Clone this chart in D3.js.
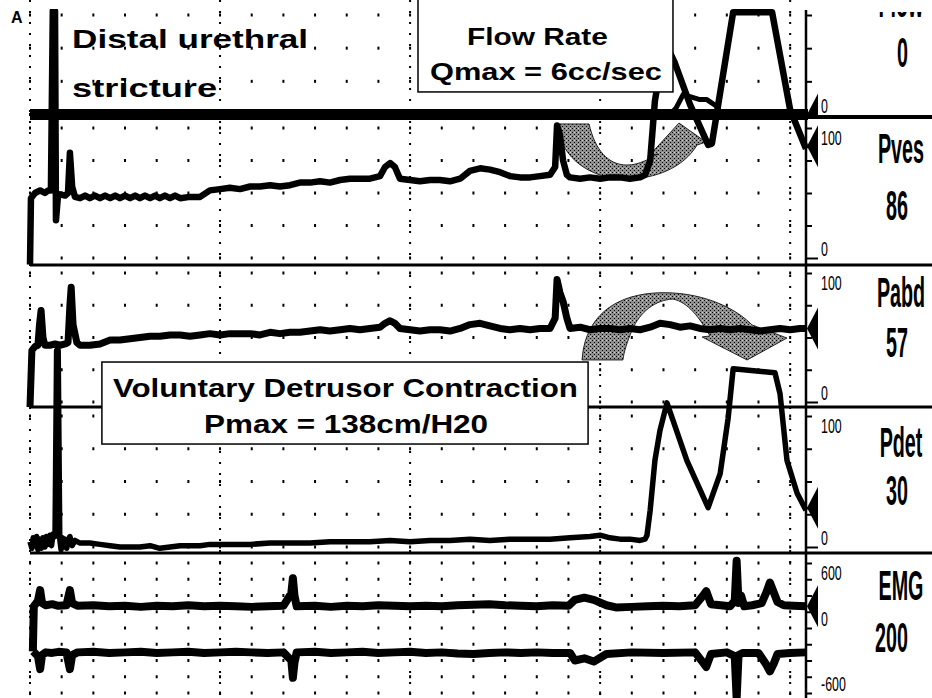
<!DOCTYPE html>
<html>
<head>
<meta charset="utf-8">
<script src="https://cdn.jsdelivr.net/npm/d3@7"></script>
<style>
body { margin: 0; background: #fff; }
svg { display: block; }
</style>
</head>
<body>
<script>
// Values: [time in s, value]
var flow_data = [[0,0],[202.1,0],[204.0,2],[206.2,6],[208.4,5.4],[211.5,4.5],[213.7,4.5],[216.9,2.4],[217.9,0.5],[219.0,0],[245,0]];
var pves_data = [[0,-5],[0.3,46],[1.6,50],[3.2,52],[4.7,50],[5.7,52],[6.6,52],[7.2,190],[7.9,190],[8.2,29],[8.8,47],[9.5,49],[11.1,48],[12.0,50],[12.6,81],[13.3,55],[14.2,47],
    [15.8,46],[17.4,48],[18.9,46],[20.5,48],[22.1,46],[23.7,48],[25.3,46],[26.9,48],[28.4,46],[30.0,48],[31.6,46],[33.2,48],[34.7,46],[36.3,48],[37.9,46],[39.5,48],[41.0,46],[42.6,48],[44.2,46],[45.8,48],[47.4,46],[50.5,47],[53.7,47],
    [56.8,52],[60.0,53],[63.1,54],[66.3,53],[69.5,55],[72.6,55],[75.8,56],[78.9,55],[82.1,56],[85.2,58],[88.4,58],[91.6,59],[94.7,58],[97.9,60],[101.0,61],[104.2,61],[107.3,61],[110.5,63],[112.1,70],[113.7,73],[115.2,70],[116.8,61],
    [120.0,60],[123.1,59],[126.3,60],[129.4,60],[132.6,59],[135.8,61],[138.9,67],[142.1,69],[145.2,68],[148.4,66],[151.5,63],[154.7,62],[157.9,62],[161.0,63],[164.2,64],[165.8,70],[166.4,102],[167.3,95],[168.3,75],[169.5,64],[170.5,62],
    [173.7,61],[176.8,62],[180.0,61],[183.1,62],[186.3,62],[189.4,61],[192.6,62],[194.2,64],[195.8,75],[197.3,121],[200.5,166],[203.6,150],[208.4,118],[214.1,87],[215.3,88],[222.0,189],[234.3,189],[240.0,114],[245.0,84]];
var pabd_data = [[0,-4],[0.6,40],[1.6,43],[2.5,44],[3.0,60],[3.5,71],[4.1,50],[4.7,44],[6.3,44],[7.9,45],[9.5,44],[11.1,45],[12.0,46],[12.6,75],[13.0,89],[13.6,60],[14.8,46],[15.8,44],[18.9,44],[22.1,45],[25.3,48],[28.4,48],[31.6,49],
    [34.7,50],[37.9,51],[41.0,51],[44.2,52],[47.4,52],[50.5,51],[53.7,52],[56.8,53],[60.0,52],[63.1,53],[66.3,53],[69.5,53],[72.6,52],[75.8,54],[78.9,53],[82.1,54],[85.2,54],[88.4,55],[91.6,56],[94.7,55],[97.9,56],[101.0,57],
    [104.2,56],[107.3,57],[110.5,58],[112.1,61],[113.7,63],[115.2,61],[116.8,57],[120.0,56],[123.1,55],[126.3,56],[129.4,56],[132.6,55],[135.8,57],[138.9,60],[142.1,61],[145.2,59],[148.4,57],[151.5,56],[154.7,57],[157.9,56],
    [161.0,57],[164.2,57],[165.8,65],[166.4,95],[167.3,85],[168.3,78],[169.5,65],[170.5,57],[173.7,58],[176.8,56],[180.0,57],[183.1,57],[186.3,56],[189.4,57],[192.6,56],[195.8,58],[198.9,61],[202.1,60],[205.2,58],[208.4,59],
    [211.5,57],[214.7,56],[217.9,57],[221.0,56],[224.2,57],[227.3,56],[230.5,55],[233.6,56],[236.8,57],[240.0,56],[243.1,57],[245.0,57]];
var pdet_data = [[0,4],[0.6,-1],[1.0,7],[1.6,1],[2.1,8],[2.5,-2],[3.2,6],[3.6,-1],[4.1,7],[4.7,0],[5.2,8],[5.7,2],[6.3,9],[6.8,1],[7.3,10],[7.9,8],[8.4,150],[8.9,150],[9.4,6],[9.8,-2],[10.2,7],[10.7,0],[11.1,6],[11.6,-1],
    [12.0,5],[12.6,8],[13.3,1],[14.2,5],[15.8,3],[18.9,3],[22.1,2],[25.3,1],
    [28.4,0],[31.6,0],[34.7,0],[37.9,1],[41.0,-1],[44.2,0],[47.4,1],[50.5,1],[53.7,1],[56.8,2],[63.1,2],[69.5,2],[75.8,3],[82.1,3],[88.4,3],[94.7,4],[101.0,4],[107.3,4],[113.7,5],[120.0,4],[126.3,5],[132.6,5],[138.9,6],
    [145.2,5],[151.5,6],[157.9,6],[164.2,6],[170.5,7],[176.8,8],[180.0,9],[183.1,7],[186.3,6],[189.4,6],[192.6,5],[194.2,6],[194.8,9],[195.8,28],[197.3,66],[198.9,89],[201.1,110],[207.4,66],[214.1,30],[217.9,56],[220.4,98],
    [222.0,136],[235.2,133],[236.8,117],[239.0,66],[242.2,41],[245.0,28]];
var emg_upper = [[0.9,-215],[1.2,200],[2.5,250],[3.2,350],[3.8,230],[5.0,210],[7.0,220],[9.0,205],[11.5,210],[12.6,350],[13.3,230],[15,205],[20,210],[25,200],[30,205],[35,195],[40,205],[45,200],[50,210],[55,200],[60,205],
    [65,200],[70,195],[75,200],[80,205],[82.5,320],[83.0,460],[83.5,300],[84.2,200],[90,205],[95,195],[100,205],[105,200],[110,210],[115,205],[120,200],[125,205],[130,200],[135,210],[140,215],[145,220],[150,210],[155,205],
    [160,200],[165,210],[170,205],[172,260],[175,280],[178,260],[182,210],[185,190],[190,195],[195,200],[200,205],[205,200],[210,210],[212.5,300],[213.5,340],[215,220],[218,210],[221,200],[222.5,250],[223.1,620],[223.7,230],
    [224.5,300],[225.5,200],[228,210],[231,230],[232.5,330],[233.6,420],[234.8,330],[236,240],[238,210],[241,205],[245,200]];
var emg_lower = [[1.0,-215],[2.5,-260],[3.2,-380],[3.8,-250],[5,-225],[7,-230],[9,-220],[11.5,-225],[12.6,-380],[13.3,-250],[15,-225],[20,-220],[25,-230],[30,-225],[35,-220],[40,-230],[45,-225],[50,-220],[55,-230],[60,-225],
    [65,-220],[70,-225],[75,-230],[80,-225],[82.5,-300],[83.0,-460],[83.5,-320],[84.2,-225],[90,-220],[95,-230],[100,-225],[105,-220],[110,-230],[115,-225],[120,-220],[125,-230],[130,-225],[135,-235],[140,-240],[145,-230],
    [150,-225],[155,-230],[160,-225],[165,-230],[170.5,-230],[172,-300],[175,-280],[178,-310],[182,-240],[190,-225],[200,-230],[210,-225],[212.5,-320],[213.5,-360],[215,-240],[220,-225],[222.5,-260],[223.1,-650],
    [223.7,-250],[225,-230],[230,-230],[232.5,-340],[233.6,-400],[234.8,-330],[236,-240],[240,-230],[245,-225]];

var channel_names = ["Flow", "Pves", "Pabd", "Pdet", "EMG"];
var current_values = [0, 86, 57, 30, 200];
var flow_ticks = [0, 10, 20, 30];
var pres_ticks = [0, 25, 50, 75, 100];
var emg_ticks = [-600, -450, -300, -150, 0, 150, 300, 450, 600];
var flow_tick_labels = [0];
var pres_tick_labels = [100, 0];
var emg_tick_labels = [600, 0, -600];

/* **
** Layout
** */
var W = 932, H = 698, axisX = 806;
var x = d3.scaleLinear().domain([0, 245]).range([30, axisX]);
var yFlow = d3.scaleLinear().domain([0, 30]).range([114.5, 15]);
var yPves = d3.scaleLinear().domain([0, 100]).range([258, 128]);
var yPabd = d3.scaleLinear().domain([0, 100]).range([402, 273]);
var yPdet = d3.scaleLinear().domain([0, 100]).range([547, 416]);
var yEmg = d3.scaleLinear().domain([-600, 600]).range([693, 563]);

var panels = [
    {scale: yFlow, ticks: flow_ticks, labels: flow_tick_labels, top: -20, bottom: 116, nameY: 17, valY: 67},
    {scale: yPves, ticks: pres_ticks, labels: pres_tick_labels, top: 117, bottom: 265, nameY: 163, valY: 220},
    {scale: yPabd, ticks: pres_ticks, labels: pres_tick_labels, top: 265, bottom: 407, nameY: 307, valY: 357},
    {scale: yPdet, ticks: pres_ticks, labels: pres_tick_labels, top: 407, bottom: 553, nameY: 457, valY: 505},
    {scale: yEmg, ticks: emg_ticks, labels: emg_tick_labels, top: 553, bottom: 700, nameY: 600, valY: 652}
];

var svg = d3.select("body").append("svg")
        .attr("width", W)
        .attr("height", H)
        .style("font-family", "'Liberation Sans', Arial, sans-serif");
svg.append("rect").attr("width", W).attr("height", H).attr("fill", "#fff");

var defs = svg.append("defs");
defs.append("clipPath").attr("id", "plotclip")
    .append("rect").attr("x", 0).attr("y", 9).attr("width", axisX + 2).attr("height", H);
defs.append("clipPath").attr("id", "nameclip")
    .append("rect").attr("x", axisX).attr("y", 12).attr("width", W).attr("height", H);
panels.forEach(function(p, i) {
    defs.append("clipPath").attr("id", "mclip" + i)
        .append("rect").attr("x", axisX).attr("y", p.top).attr("width", 30).attr("height", p.bottom - p.top);
});
var pat = defs.append("pattern").attr("id", "stipple")
        .attr("patternUnits", "userSpaceOnUse").attr("width", 4).attr("height", 4);
pat.append("rect").attr("width", 4).attr("height", 4).attr("fill", "#8e8e8e");
pat.append("rect").attr("width", 1).attr("height", 1).attr("fill", "#000");
pat.append("rect").attr("x", 2).attr("y", 2).attr("width", 1).attr("height", 1).attr("fill", "#000");
pat.append("rect").attr("x", 2).attr("y", 0).attr("width", 1).attr("height", 1).attr("fill", "#d0d0d0");

// Grid: dots at each tick row every 10 s, dotted lines every minute
var grid = svg.append("g").attr("class", "grid");
var grid_cols = d3.range(0, 241, 10);
panels.forEach(function(p) {
    grid.append("g").selectAll("rect")
        .data(d3.cross(grid_cols, p.ticks)).enter()
        .append("rect")
            .attr("x", function(d) { return x(d[0]) - 1; })
            .attr("y", function(d) { return p.scale(d[1]) - 1.5; })
            .attr("width", 2).attr("height", 3)
            .attr("fill", "#000");
});
grid.selectAll("line")
    .data(d3.range(0, 241, 60)).enter()
    .append("line")
        .attr("x1", x).attr("x2", x)
        .attr("y1", 0).attr("y2", H)
        .attr("stroke", "#000").attr("stroke-width", 2)
        .attr("stroke-dasharray", "2 9");

// Panel separators
svg.append("g").selectAll("line")
    .data(panels.slice(1)).enter()
    .append("line")
        .attr("x1", 30).attr("x2", W)
        .attr("y1", function(d) { return d.top; }).attr("y2", function(d) { return d.top; })
        .attr("stroke", "#000")
        .attr("stroke-width", function(d, i) { return i === 0 ? 4 : 3; });

// Shaded curved arrows, points in [time, value] of their channel
var arrow_pves = [["M",166.1,103.1],["L",176.5,103.1],["C",178.4,83.1,182.5,71.5,188.5,71.5],["C",192.6,71.5,195.8,76.9,198.3,80],
    ["L",195.1,77.7],["L",204.9,103.8],["L",213.4,89.2],["L",210.6,86.9],["C",206.2,69.2,197.3,60.8,188.2,60.8],["C",177.4,60.8,167.9,75.4,166.1,103.1]];
var arrow_pabd = [["M",174.3,32.6],["C",175.0,59.7,181.5,79.1,194.2,83.7],["C",205.2,87.6,219.4,80.6,228.0,59.7],["L",239.0,49.6],["L",226.4,32.6],
    ["L",212.2,50.4],["L",214.7,51.2],["C",211.5,65.1,207.7,77.5,203.0,79.8],["C",197.3,79.1,192.6,69.8,190.1,55.8],["C",188.5,46.5,187.5,38.8,187.2,32.6]];
function arrowPath(cmds, ys) {
    var p = d3.path();
    cmds.forEach(function(c) {
        if (c[0] === "M") p.moveTo(x(c[1]), ys(c[2]));
        else if (c[0] === "L") p.lineTo(x(c[1]), ys(c[2]));
        else p.bezierCurveTo(x(c[1]), ys(c[2]), x(c[3]), ys(c[4]), x(c[5]), ys(c[6]));
    });
    p.closePath();
    return p.toString();
}
svg.append("g").selectAll("path")
    .data([[arrow_pves, yPves], [arrow_pabd, yPabd]]).enter()
    .append("path")
        .attr("d", function(d) { return arrowPath(d[0], d[1]); })
        .attr("fill", "url(#stipple)")
        .attr("stroke", "#222").attr("stroke-width", 1);

// Traces
var traces = svg.append("g").attr("clip-path", "url(#plotclip)")
        .attr("fill", "none").attr("stroke", "#000")
        .attr("stroke-linejoin", "round");
traces.append("line")
    .attr("x1", x(0)).attr("x2", axisX + 6)
    .attr("y1", yFlow(0)).attr("y2", yFlow(0))
    .attr("stroke-width", 11);
[[flow_data, yFlow, 5], [pves_data, yPves, 6.5], [pabd_data, yPabd, 7], [pdet_data, yPdet, 5.5],
 [emg_upper, yEmg, 8], [emg_lower, yEmg, 8]].forEach(function(s) {
    traces.append("path")
        .datum(s[0])
        .attr("stroke-width", s[2])
        .attr("d", d3.line().x(function(d) { return x(d[0]); }).y(function(d) { return s[1](d[1]); }));
});

// Annotation boxes
var ann = svg.append("g").style("font-weight", "bold");
ann.append("rect")
    .attr("x", x(122.5)).attr("y", yFlow(35.1))
    .attr("width", x(203.0) - x(122.5)).attr("height", yFlow(6.8) - yFlow(35.1))
    .attr("fill", "#fff").attr("stroke", "#000").attr("stroke-width", 1.5);
ann.append("rect")
    .attr("x", x(22.7)).attr("y", yPdet(141.2))
    .attr("width", x(176.2) - x(22.7)).attr("height", yPdet(78.6) - yPdet(141.2))
    .attr("fill", "#fff").attr("stroke", "#000").attr("stroke-width", 1.5);

var notes = [
    {text: "Distal urethral", t: 13.3, y: yFlow(20.0), len: 236, size: 26, anchor: "start"},
    {text: "stricture", t: 13.3, y: yFlow(5.3), len: 145, size: 26, anchor: "start"},
    {text: "Flow Rate", t: 160.2, y: yFlow(21.0), len: 141, size: 24, anchor: "middle"},
    {text: "Qmax = 6cc/sec", t: 162.9, y: yFlow(10.4), len: 232, size: 24, anchor: "middle"},
    {text: "Voluntary Detrusor Contraction", t: 99.6, y: yPdet(114.5), len: 465, size: 25, anchor: "middle"},
    {text: "Pmax = 138cm/H20", t: 99.8, y: yPdet(87), len: 284, size: 25, anchor: "middle"}
];
ann.selectAll("text.note")
    .data(notes).enter()
    .append("text")
        .attr("class", "note")
        .attr("x", function(d) { return x(d.t); })
        .attr("y", function(d) { return d.y; })
        .attr("text-anchor", function(d) { return d.anchor; })
        .attr("textLength", function(d) { return d.len; })
        .attr("lengthAdjust", "spacingAndGlyphs")
        .style("font-size", function(d) { return d.size + "px"; })
        .attr("fill", "#000")
        .text(function(d) { return d.text; });

svg.append("text")
    .attr("x", 11).attr("y", 23)
    .style("font-size", "16px").style("font-weight", "bold")
    .text("A");

// Right-hand scale
svg.append("line")
    .attr("x1", axisX).attr("x2", axisX).attr("y1", 10).attr("y2", H)
    .attr("stroke", "#000").attr("stroke-width", 2.5);

function narrow(g, str, px, py, size, sx, anchor, weight) {
    return g.append("text")
        .attr("transform", "translate(" + px + "," + py + ") scale(" + sx + ",1)")
        .attr("text-anchor", anchor)
        .style("font-size", size + "px")
        .style("font-weight", weight)
        .text(str);
}

panels.forEach(function(p, i) {
    var ax = svg.append("g")
        .attr("transform", "translate(" + axisX + ",0)")
        .call(d3.axisRight(p.scale).tickValues(p.ticks).tickSize(6).tickSizeOuter(0).tickFormat(""));
    ax.select(".domain").remove();
    ax.selectAll(".tick line")
        .attr("stroke-width", 2)
        .attr("x2", function(d) { return d === 0 && i > 0 && i < 4 ? 12 : 6; });

    var lab = svg.append("g");
    p.labels.forEach(function(v, k) {
        var top = k === 0 && p.labels.length > 1;
        narrow(lab, String(v).replace("-", "\u2011"), axisX + 15, p.scale(v) + (top ? 17 : -2), 20, 0.62, "start", "normal");
    });

    // current value marker
    svg.append("path")
        .attr("clip-path", "url(#mclip" + i + ")")
        .attr("d", "M" + (axisX + 1) + "," + p.scale(current_values[i]) +
                   "L" + (axisX + 12) + "," + (p.scale(current_values[i]) - 21) +
                   "L" + (axisX + 12) + "," + (p.scale(current_values[i]) + 21) + "Z")
        .attr("fill", "#000");

    var nameG = i === 0 ? lab.append("g").attr("clip-path", "url(#nameclip)") : lab;
    narrow(nameG, channel_names[i], 901, p.nameY, 42, 0.47, "middle", "bold");
    narrow(lab, String(current_values[i]), 908, p.valY, 42, 0.47, "end", "bold");
});
</script>
</body>
</html>
